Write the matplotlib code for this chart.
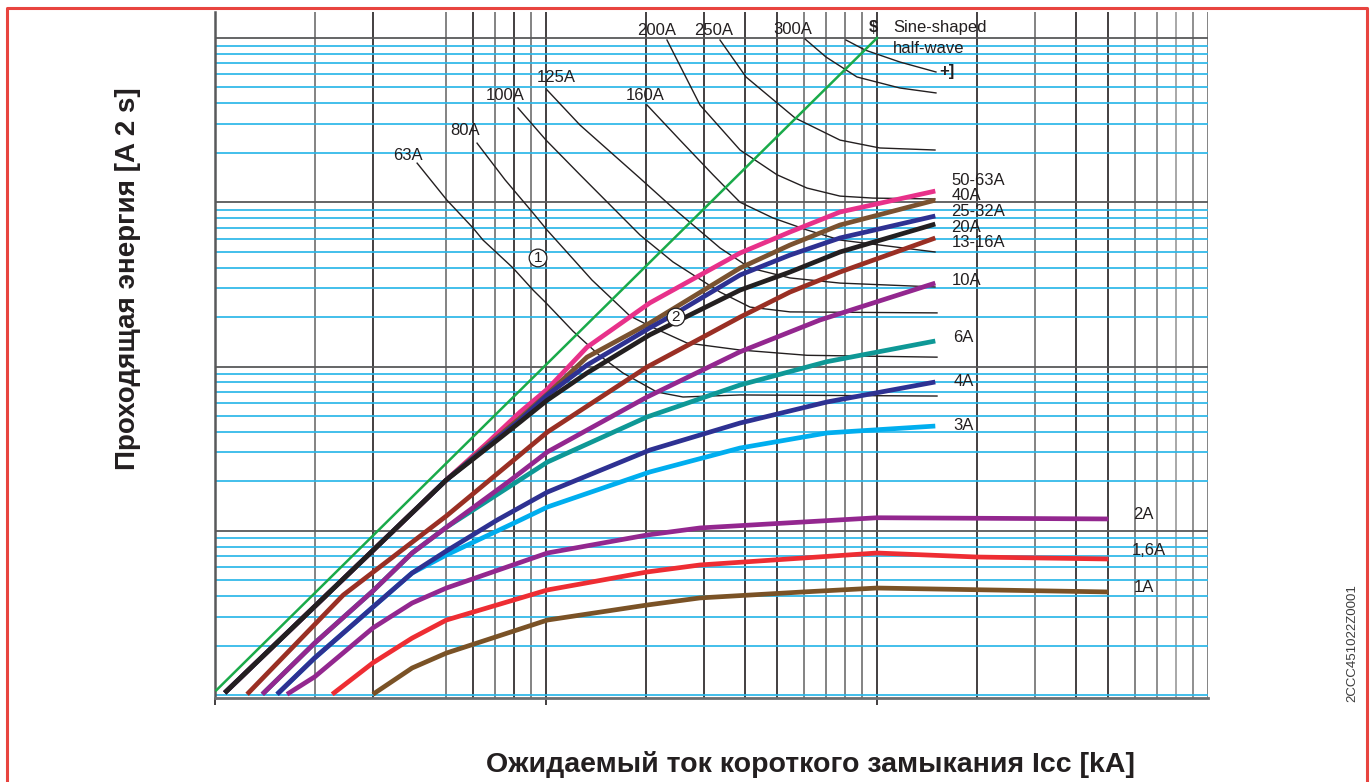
"""
Let-through energy of miniature circuit breakers vs prospective short-circuit current
"""

import matplotlib
matplotlib.use("Agg")
import matplotlib.pyplot as plt
from matplotlib.lines import Line2D

plt.rcParams['font.family'] = ['Liberation Sans', 'DejaVu Sans']

# prospective current Icc [kA] and let-through energy [A^2 s]
sine_i = [0.101, 10.0]
sine_e = [1.07e3, 1.0e7]

i_50_63 = [0.107, 0.5, 0.664, 0.835, 1.01, 1.33, 2.06, 3.86, 5.46, 7.73, 15.0]
e_50_63 = [1.03e3, 2.04e4, 3.42e4, 5.28e4, 7.29e4, 1.31e5, 2.44e5, 4.91e5, 6.59e5, 8.72e5, 1.17e6]

i_40 = [0.107, 0.5, 0.835, 1.01, 1.33, 2.06, 3.86, 5.46, 7.73, 15.0]
e_40 = [1.03e3, 2.04e4, 4.86e4, 6.8e4, 1.14e5, 1.84e5, 3.98e5, 5.49e5, 7.27e5, 1.03e6]

i_25_32 = [0.107, 0.5, 0.835, 1.01, 1.33, 2.06, 2.42, 3.86, 5.46, 7.73, 15.0]
e_25_32 = [1.03e3, 2.04e4, 4.72e4, 6.71e4, 1.02e5, 1.72e5, 2.06e5, 3.61e5, 4.77e5, 6.06e5, 8.25e5]

i_20 = [0.107, 0.5, 0.602, 0.726, 0.835, 1.01, 1.33, 2.06, 3.86, 5.46, 7.73, 15.0]
e_20 = [1.03e3, 2.04e4, 2.73e4, 3.67e4, 4.59e4, 6.25e4, 9.13e4, 1.56e5, 2.92e5, 3.76e5, 4.98e5, 7.37e5]

i_13_16 = [0.125, 0.244, 0.5, 1.01, 2.02, 3.07, 3.86, 5.46, 7.73, 15.0]
e_13_16 = [1.01e3, 4.06e3, 1.23e4, 3.99e4, 9.93e4, 1.56e5, 2.0e5, 2.84e5, 3.76e5, 6.06e5]

i_10 = [0.139, 0.2, 0.3, 0.394, 0.55, 0.768, 1.01, 2.02, 3.86, 6.73, 15.0]
e_10 = [1.01e3, 2.07e3, 4.3e3, 7.32e3, 1.21e4, 1.98e4, 3.02e4, 6.52e4, 1.23e5, 1.92e5, 3.22e5]

i_6 = [0.139, 0.2, 0.3, 0.394, 0.5, 1.01, 2.02, 3.86, 7.06, 15.0]
e_6 = [1.01e3, 2.07e3, 4.3e3, 7.32e3, 1.05e4, 2.62e4, 4.93e4, 7.72e4, 1.07e5, 1.43e5]

i_4 = [0.154, 0.2, 0.3, 0.394, 0.5, 0.711, 1.01, 2.06, 3.86, 7.06, 15.0]
e_4 = [1.01e3, 1.68e3, 3.43e3, 5.53e3, 7.53e3, 1.16e4, 1.72e4, 3.1e4, 4.53e4, 6.08e4, 8.05e4]

i_3 = [0.154, 0.2, 0.3, 0.394, 0.5, 0.835, 1.01, 2.06, 3.86, 7.06, 15.0]
e_3 = [1.01e3, 1.68e3, 3.43e3, 5.53e3, 7.12e3, 1.16e4, 1.395e4, 2.28e4, 3.19e4, 3.94e4, 4.34e4]

i_2 = [0.165, 0.2, 0.3, 0.394, 0.5, 1.01, 2.02, 2.92, 10.0, 50.0]
e_2 = [1.01e3, 1.29e3, 2.56e3, 3.63e3, 4.48e3, 7.32e3, 9.42e3, 1.04e4, 1.2e4, 1.18e4]

i_1_6 = [0.226, 0.3, 0.394, 0.5, 1.01, 2.02, 2.92, 10.0, 20.0, 50.0]
e_1_6 = [1.01e3, 1.57e3, 2.22e3, 2.86e3, 4.36e3, 5.61e3, 6.19e3, 7.32e3, 6.92e3, 6.73e3]

i_1 = [0.3, 0.394, 0.5, 1.01, 2.02, 2.92, 5.98, 10.0, 50.0]
e_1 = [1.01e3, 1.46e3, 1.8e3, 2.86e3, 3.53e3, 3.9e3, 4.24e3, 4.48e3, 4.24e3]

# fuse curves (thin black)
i_f63 = [0.408, 0.502, 0.602, 0.645, 0.795, 0.914, 1.0, 1.207, 1.456, 1.708, 2.164, 2.594, 3.857, 15.18]
e_f63 = [1.73e6, 1.03e6, 6.97e5, 5.89e5, 3.98e5, 2.92e5, 2.44e5, 1.64e5, 1.16e5, 9.13e4, 6.99e4, 6.52e4, 6.71e4, 6.61e4]

i_f80 = [0.619, 0.752, 0.914, 1.007, 1.377, 1.794, 2.062, 2.667, 3.857, 6.146, 15.18]
e_f80 = [2.29e6, 1.37e6, 8.6e5, 6.78e5, 3.36e5, 2.03e5, 1.76e5, 1.39e5, 1.26e5, 1.17e5, 1.14e5]

i_f100 = [0.823, 1.0, 1.267, 1.923, 2.419, 3.355, 4.134, 5.461, 15.18]
e_f100 = [3.75e6, 2.39e6, 1.47e6, 6.32e5, 4.33e5, 2.84e5, 2.3e5, 2.15e5, 2.12e5]

i_f125 = [1.007, 1.267, 1.923, 2.419, 3.355, 4.134, 5.461, 7.731, 14.97]
e_f125 = [4.83e6, 2.95e6, 1.40e6, 9.23e5, 5.27e5, 3.98e5, 3.46e5, 3.22e5, 3.05e5]

i_f160 = [2.019, 2.54, 3.195, 3.857, 4.851, 6.146, 7.731, 14.97]
e_f160 = [3.91e6, 2.39e6, 1.47e6, 1.0e6, 8.02e5, 6.78e5, 5.89e5, 4.98e5]

i_f200 = [2.32, 2.919, 3.857, 4.988, 6.146, 7.731, 9.72, 14.97]
e_f200 = [9.72e6, 3.91e6, 2.08e6, 1.47e6, 1.22e6, 1.09e6, 1.06e6, 1.047e6]

i_f250 = [3.355, 4.02, 5.655, 7.731, 10.2, 14.97]
e_f250 = [9.72e6, 5.79e6, 3.26e6, 2.39e6, 2.14e6, 2.08e6]

i_f300 = [6.061, 7.013, 8.70, 11.73, 15.07]
e_f300 = [9.86e6, 7.66e6, 5.79e6, 4.96e6, 4.63e6]

i_fs = [8.06, 9.2, 11.73, 15.07]
e_fs = [9.72e6, 8.45e6, 7.14e6, 6.21e6]

TXT = '#231F20'
CYAN = '#2BB7E8'
GREY = '#6e6e6e'

fig = plt.figure(figsize=(13.72, 7.82), dpi=100)
ax = fig.add_axes([215 / 1372, 1 - 698 / 782, 993 / 1372, 686 / 782])
ax.set_xscale('log')
ax.set_yscale('log')
ax.set_xlim(0.1, 100)
ax.set_ylim(10 ** (3 - 3 / 164.25), 10 ** (3 + 683 / 164.25))

# vertical grid (no line at 0.4 in the first decade)
xgrid = [(0.2, GREY), (0.3, TXT), (0.5, GREY), (0.6, TXT), (0.7, GREY),
         (0.8, TXT), (0.9, GREY), (1, TXT),
         (2, TXT), (3, TXT), (4, TXT), (5, TXT), (6, GREY), (7, GREY),
         (8, GREY), (9, GREY), (10, TXT),
         (20, TXT), (30, GREY), (40, TXT), (50, TXT), (60, GREY),
         (70, '#7d7d7d'), (80, '#9a9a9a'), (90, '#7d7d7d'), (100, GREY)]
for xv, c in xgrid:
    ax.axvline(xv, color=c, lw=1.2, zorder=1)

# horizontal grid: cyan minors, grey majors
for dec in [1e3, 1e4, 1e5, 1e6]:
    for k in range(2, 10):
        ax.axhline(k * dec, color=CYAN, lw=1.25, zorder=1)
ax.axhline(1e3, color=CYAN, lw=1.25, zorder=1)
for dec in [1e4, 1e5, 1e6, 1e7]:
    ax.axhline(dec, color='#58595B', lw=1.3, zorder=1.2)

# fuse curves
fuses = [(i_f63, e_f63, '63A', (-9, 8)), (i_f80, e_f80, '80A', (-12, 13)),
         (i_f100, e_f100, '100A', (-13, 12)), (i_f125, e_f125, '125A', (9, 12)),
         (i_f160, e_f160, '160A', (-2, 9)), (i_f200, e_f200, '200A', (-10, 10)),
         (i_f250, e_f250, '250A', (-6, 10)), (i_f300, e_f300, '300A', (-12, 10))]
for xs, ys, lab, off in fuses:
    ax.plot(xs, ys, color=TXT, lw=1.0, zorder=3)
    ax.annotate(lab, (xs[0], ys[0]), xytext=off, textcoords='offset pixels',
                ha='center', va='center', fontsize=12, color=TXT)
ax.plot(i_fs, e_fs, color=TXT, lw=1.0, zorder=3)
ax.annotate('+]', (i_fs[-1], e_fs[-1]), xytext=(3, 0), textcoords='offset pixels',
            ha='left', va='center', fontsize=12, fontweight='bold', color=TXT)

# sine-shaped half-wave
ax.plot(sine_i, sine_e, color='#1AAA4A', lw=1.8, zorder=4)
ax.annotate('$', (sine_i[-1], sine_e[-1]), xytext=(-4, 11), textcoords='offset pixels',
            ha='center', va='center', fontsize=12, fontweight='bold', color=TXT)
ax.annotate('Sine-shaped', (sine_i[-1], sine_e[-1]), xytext=(16, 11), textcoords='offset pixels',
            ha='left', va='center', fontsize=12, color=TXT)
ax.annotate('half-wave', (sine_i[-1], sine_e[-1]), xytext=(16, -10), textcoords='offset pixels',
            ha='left', va='center', fontsize=12, color=TXT)

# MCB curves
mcbs = [(i_1, e_1, '1A', '#7A5226', (25, 4)),
        (i_1_6, e_1_6, '1,6A', '#EE2D33', (23, 8)),
        (i_2, e_2, '2A', '#93278F', (25, 4)),
        (i_3, e_3, '3A', '#00AEEF', (18, 1)),
        (i_4, e_4, '4A', '#2E3192', (18, 0)),
        (i_6, e_6, '6A', '#0E9896', (18, 3)),
        (i_10, e_10, '10A', '#93278F', (16, 3)),
        (i_13_16, e_13_16, '13-16A', '#9A2F24', (16, -5)),
        (i_50_63, e_50_63, '50-63A', '#E8318A', (16, 11)),
        (i_40, e_40, '40A', '#7A5230', (16, 5)),
        (i_25_32, e_25_32, '25-32A', '#2E3192', (16, 4)),
        (i_20, e_20, '20A', TXT, (16, -3))]
for z, (xs, ys, lab, c, off) in enumerate(mcbs):
    ax.plot(xs, ys, color=c, lw=3.4, solid_capstyle='butt', solid_joinstyle='round', zorder=5 + 0.1 * z)
    ax.annotate(lab, (xs[-1], ys[-1]), xytext=off, textcoords='offset pixels',
                ha='left', va='center', fontsize=12, color=TXT)

# circled reference marks
for txt, xv, yv in [('1', 0.946, 4.58e5), ('2', 2.47, 2.0e5)]:
    ax.text(xv, yv, txt, ha='center', va='center', fontsize=11, color=TXT, zorder=8,
            bbox=dict(boxstyle='circle,pad=0.12', fc='white', ec=TXT, lw=0.9))

for s in ['top', 'right']:
    ax.spines[s].set_visible(False)
ax.spines['left'].set_color('#58595B')
ax.spines['left'].set_linewidth(1.8)
ax.spines['bottom'].set_color('#6d6e70')
ax.spines['bottom'].set_linewidth(2.0)
ax.set_xticks([0.1, 1, 10])
ax.set_xticks([], minor=True)
ax.set_yticks([])
ax.set_yticks([], minor=True)
ax.tick_params(axis='x', length=5, width=1.2, color=TXT, labelbottom=False)

fig.text(128 / 1372, 1 - 279 / 782, 'Проходящая энергия [A 2 s]', rotation=90,
         ha='center', va='center', fontsize=20, fontweight='bold', color=TXT)
fig.text(810 / 1372, 1 - 765 / 782, 'Ожидаемый ток короткого замыкания Icc [kA]',
         ha='center', va='center', fontsize=20.5, fontweight='bold', color=TXT)
fig.text(1352 / 1372, 1 - 643 / 782, '2CCC451022Z0001', rotation=90,
         ha='center', va='center', fontsize=9.5, color='#3c3c3c')

# red frame
fig.add_artist(Line2D([7 / 1372, 7 / 1372, 1367 / 1372, 1367 / 1372],
                      [0, 1 - 8 / 782, 1 - 8 / 782, 0],
                      transform=fig.transFigure, color='#E8443F', lw=2.2))

fig.savefig('out.png', dpi=100)
